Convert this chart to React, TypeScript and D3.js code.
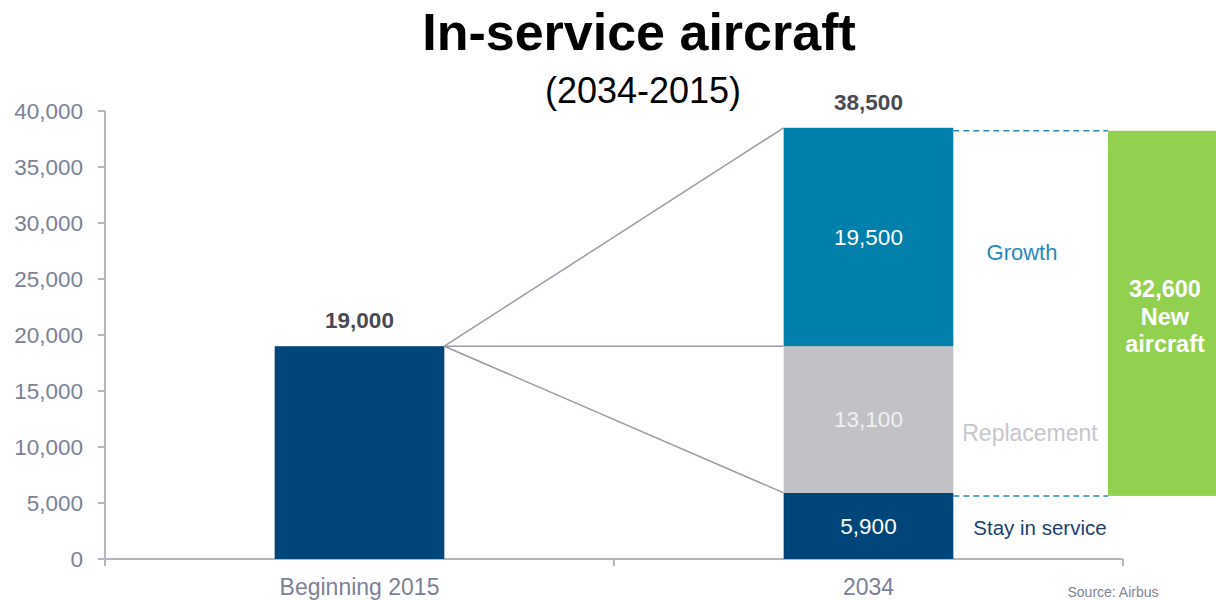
import React from "react";
import * as d3 from "d3";

const categories = ["Beginning 2015", "2034"];
const startValue = 19000;
const segmentNames = ["Stay in service", "Replacement", "Growth"];
const segmentValues = [5900, 13100, 19500];
const segmentColors = ["#00467a", "#c2c2c6", "#0080ab"];
const segmentLabelColors = ["#ffffff", "#f0f0f2", "#ffffff"];
const sideLabelColors = ["#1c3f6e", "#c6c6cc", "#2a8ab8"];
const sideLabelValues = [2800, 11250, 27400];
const sideLabelCenters = [1040, 1030, 1022];
const sideLabelSizes = [20.5, 23, 22];
const endTotal = 38500;
const newAircraftValue = 32600;
const yTicks = [0, 5000, 10000, 15000, 20000, 25000, 30000, 35000, 40000];

const W = 1216;
const H = 600;
const FONT = "'Liberation Sans', Arial, sans-serif";

export default function App() {
  const y = d3.scaleLinear().domain([0, 40000]).range([559, 111]);
  const x = d3.scaleBand<string>().domain(categories).range([105, 1123]).paddingInner(0).paddingOuter(0);
  const bw = x.bandwidth() / 3;
  const cx0 = (x(categories[0]) as number) + x.bandwidth() / 2;
  const cx1 = (x(categories[1]) as number) + x.bandwidth() / 2;
  const b0x = cx0 - bw / 2;
  const b1x = cx1 - bw / 2;

  const stacks = segmentValues.map((v, i) => {
    const start = d3.sum(segmentValues.slice(0, i));
    return { name: segmentNames[i], value: v, y0: start, y1: start + v, i };
  });
  const fmt = d3.format(",");

  const greenX0 = 1108;
  const greenX1 = 1216;
  const newBottom = endTotal - newAircraftValue;

  const axisColor = "#b3b6c0";
  const tickTextColor = "#7b8296";

  return (
    <div style={{ position: "absolute", left: 0, top: 0 }}>
      <svg width={W} height={H} style={{ display: "block", background: "#fff" }} fontFamily={FONT}>
        {/* Title */}
        <text x={639} y={50} textAnchor="middle" fontSize={52} fontWeight="bold" fill="#000">
          In-service aircraft
        </text>
        <text x={643} y={103} textAnchor="middle" fontSize={36} fill="#000">
          (2034-2015)
        </text>

        {/* Y axis */}
        <line x1={105} x2={105} y1={y(40000)} y2={y(0) + 6} stroke={axisColor} strokeWidth={2} />
        {yTicks.map((t) => (
          <g key={t}>
            <line x1={98} x2={105} y1={y(t)} y2={y(t)} stroke={axisColor} strokeWidth={2} />
            <text x={83} y={y(t)} dy="0.35em" textAnchor="end" fontSize={22.5} fill={tickTextColor}>
              {fmt(t)}
            </text>
          </g>
        ))}

        {/* X axis */}
        <line x1={98} x2={1123} y1={y(0)} y2={y(0)} stroke={axisColor} strokeWidth={2} />
        {[105, 105 + x.bandwidth(), 1123].map((tx, i) => (
          <line key={i} x1={tx} x2={tx} y1={y(0)} y2={y(0) + 7} stroke={axisColor} strokeWidth={2} />
        ))}
        {categories.map((c) => (
          <text
            key={c}
            x={(x(c) as number) + x.bandwidth() / 2}
            y={595}
            textAnchor="middle"
            fontSize={23}
            fill={tickTextColor}
          >
            {c}
          </text>
        ))}

        {/* Start bar */}
        <rect x={b0x} y={y(startValue)} width={bw} height={y(0) - y(startValue)} fill="#00467a" />
        <text x={cx0} y={y(startValue) - 18} textAnchor="middle" fontSize={22.5} fontWeight="bold" fill="#4a4a55">
          {fmt(startValue)}
        </text>

        {/* Connector lines */}
        {[endTotal, startValue, segmentValues[0]].map((v, i) => (
          <line
            key={i}
            x1={b0x + bw}
            y1={y(startValue)}
            x2={b1x}
            y2={y(v)}
            stroke="#9a9aa8"
            strokeWidth={1.5}
          />
        ))}

        {/* Stacked 2034 bar */}
        {stacks.map((s) => (
          <g key={s.name}>
            <rect x={b1x} y={y(s.y1)} width={bw} height={y(s.y0) - y(s.y1)} fill={segmentColors[s.i]} />
            <text
              x={cx1}
              y={(y(s.y0) + y(s.y1)) / 2}
              dy="0.35em"
              textAnchor="middle"
              fontSize={22.5}
              fill={segmentLabelColors[s.i]}
            >
              {fmt(s.value)}
            </text>
            <text
              x={sideLabelCenters[s.i]}
              y={y(sideLabelValues[s.i])}
              dy="0.35em"
              textAnchor="middle"
              fontSize={sideLabelSizes[s.i]}
              fill={sideLabelColors[s.i]}
            >
              {s.name}
            </text>
          </g>
        ))}
        <text x={cx1} y={y(endTotal) - 18} textAnchor="middle" fontSize={22.5} fontWeight="bold" fill="#4a4a55">
          {fmt(endTotal)}
        </text>

        {/* Dashed guides */}
        {[endTotal, newBottom].map((v, i) => (
          <line
            key={i}
            x1={b1x + bw}
            x2={greenX0}
            y1={y(v) + 3}
            y2={y(v) + 3}
            stroke="#2a8ab8"
            strokeWidth={1.5}
            strokeDasharray="6,4"
          />
        ))}

        {/* New aircraft bar */}
        <rect x={greenX0} y={y(endTotal) + 3} width={greenX1 - greenX0} height={y(newBottom) - y(endTotal)} fill="#92d050" />
        {[fmt(newAircraftValue), "New", "aircraft"].map((t, i) => (
          <text
            key={i}
            x={1165}
            y={289 + i * 27.5}
            dy="0.35em"
            textAnchor="middle"
            fontSize={23.5}
            fontWeight="bold"
            fill="#ffffff"
          >
            {t}
          </text>
        ))}

        {/* Source */}
        <text x={1113} y={597} textAnchor="middle" fontSize={14} fill="#808494">
          Source: Airbus
        </text>
      </svg>
    </div>
  );
}
